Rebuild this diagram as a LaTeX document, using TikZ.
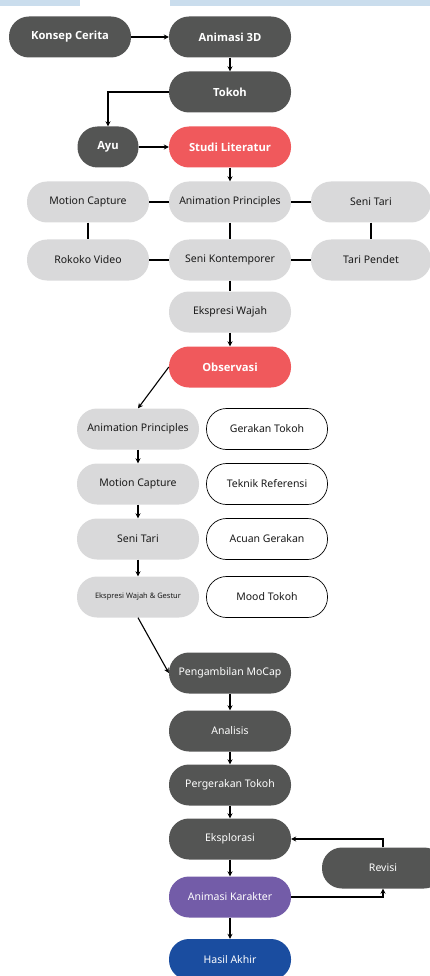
\documentclass[tikz,border=0pt]{standalone}
\usepackage{fontspec}
\setmainfont{Noto Sans}
\newfontfamily\headf{Open Sans}
\usetikzlibrary{arrows.meta}
\definecolor{dgray}{HTML}{545554}
\definecolor{redc}{HTML}{F0595C}
\definecolor{lgray}{HTML}{D9D9DA}
\definecolor{purp}{HTML}{735CA8}
\definecolor{bluec}{HTML}{1A4DA0}
\definecolor{topbar}{HTML}{CADDED}
\definecolor{txt}{HTML}{1A1A1A}
\begin{document}
\begin{tikzpicture}[x=1pt,y=-1pt,
  box/.style={rounded corners=20pt, minimum width=122pt, minimum height=41pt, inner sep=0pt, align=center, font=\fontsize{10.5}{12}\selectfont},
  dark/.style={box, fill=dgray, text=white},
  head/.style={font=\headf\bfseries\fontsize{11.2}{13}\selectfont},
  reds/.style={box, fill=redc, text=white, head},
  light/.style={box, fill=lgray, text=txt},
  outl/.style={box, draw=black, fill=white, text=txt, line width=0.7pt, minimum width=121pt, minimum height=41pt},
  arr/.style={-{Stealth[length=5pt,width=5pt]}, line width=1.1pt, black},
  ln/.style={line width=1.1pt, black}
]
\useasboundingbox (0,0) rectangle (430,976);
\fill[topbar] (0,0) rectangle (80,6);
\fill[topbar] (170,0) rectangle (430,6);

\node[dark,head] (k) at (70,37) {Konsep Cerita};
\node[dark,head] (a3) at (230,37) {Animasi 3D};
\node[dark,head] (tk) at (230,92) {Tokoh};
\node[dark,head,minimum width=61pt] (ayu) at (108,147) {Ayu};
\node[reds] (sl) at (230,147) {Studi Literatur};

\node[light] (ap) at (230,202) {Animation Principles};
\node[light] (mc) at (88,202) {Motion Capture};
\node[light,minimum width=120pt] (st) at (371,202) {Seni Tari};
\node[light] (rv) at (88,260) {Rokoko Video};
\node[light] (sk) at (230,260) {Seni Kontemporer};
\node[light,minimum width=120pt] (tp) at (371,260) {Tari Pendet};
\node[light] (ew) at (230,312) {Ekspresi Wajah};
\node[reds] (obs) at (230,367) {Observasi};

\node[light] (ap2) at (138,429) {Animation Principles};
\node[outl] (gt) at (267,429) {Gerakan Tokoh};
\node[light] (mc2) at (138,484) {Motion Capture};
\node[outl] (tr) at (267,484) {Teknik Referensi};
\node[light] (st2) at (138,539) {Seni Tari};
\node[outl] (ag) at (267,539) {Acuan Gerakan};
\node[light,font=\fontsize{7.5}{8}\selectfont] (eg) at (138,597) {Ekspresi Wajah \& Gestur};
\node[outl] (mt) at (267,597) {Mood Tokoh};

\node[dark] (pm) at (230,673) {Pengambilan MoCap};
\node[dark] (an) at (230,731) {Analisis};
\node[dark] (pt) at (230,785) {Pergerakan Tokoh};
\node[dark] (eks) at (230,839) {Eksplorasi};
\node[box,fill=purp,text=white] (ak) at (230,897) {Animasi Karakter};
\node[box,fill=bluec,text=white] (ha) at (230,959.5) {Hasil Akhir};
\node[dark] (rev) at (383,868) {Revisi};

\draw[arr] (k) -- (a3);
\draw[arr] (a3) -- (tk);
\draw[arr] (tk.west) -| (ayu.north);
\draw[arr] (ayu) -- (sl);
\draw[arr] (sl) -- (ap);
\draw[ln] (mc) -- (ap);
\draw[ln] (ap) -- (st);
\draw[ln] (rv) -- (sk);
\draw[ln] (sk) -- (tp);
\draw[ln] (mc) -- (rv);
\draw[ln] (ap) -- (sk);
\draw[ln] (st) -- (tp);
\draw[ln] (sk) -- (ew);
\draw[arr] (ew) -- (obs);
\draw[arr] (obs.west) -- (ap2.north);
\draw[arr] (ap2) -- (mc2);
\draw[arr] (mc2) -- (st2);
\draw[arr] (st2) -- (eg);
\draw[arr] (eg.south) -- (pm.west);
\draw[arr] (pm) -- (an);
\draw[arr] (an) -- (pt);
\draw[arr] (pt) -- (eks);
\draw[arr] (eks) -- (ak);
\draw[arr] (ak) -- (ha);
\draw[arr] (ak.east) -| (rev.south);
\draw[arr] (rev.north) |- (eks.east);
\end{tikzpicture}
\end{document}
